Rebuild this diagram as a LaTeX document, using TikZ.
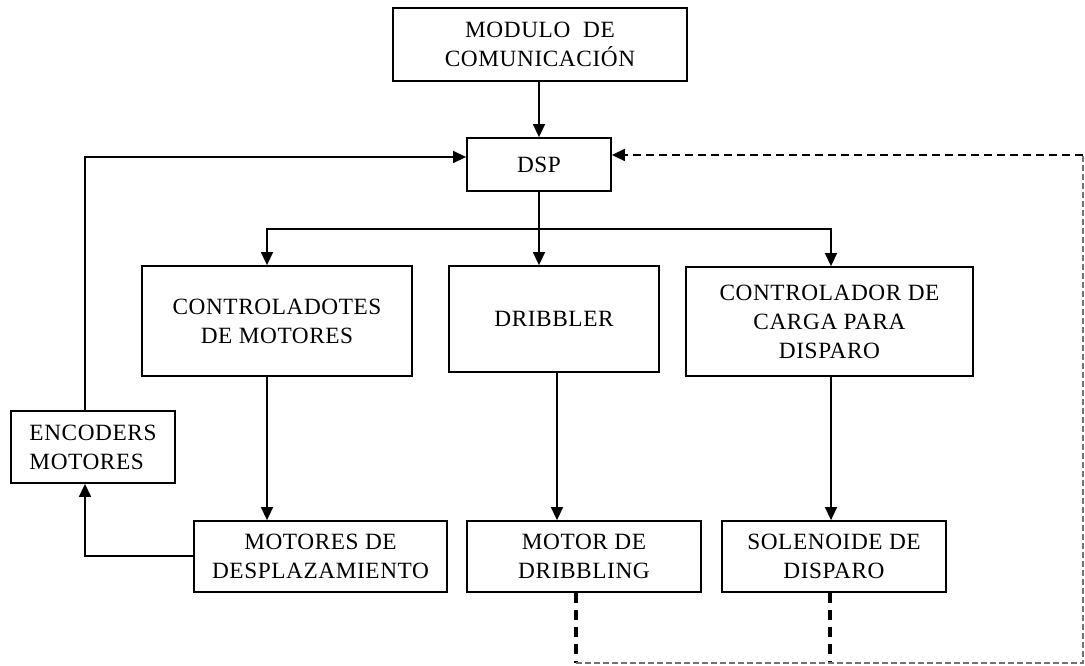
\documentclass[tikz,border=0pt]{standalone}
\usepackage{fontspec}
\setmainfont[LetterSpace=2.5]{Liberation Serif}
\usetikzlibrary{arrows.meta,calc}
\begin{document}
\begin{tikzpicture}[x=1pt,y=-1pt,
  blk/.style={draw=black,line width=1.8pt,align=center,inner sep=0pt,
    font=\fontsize{23.3}{29}\selectfont},
  arr/.style={line width=1.5pt,-{Triangle[length=13pt,width=12pt]}},
  dtop/.style={line width=1.6pt,dash pattern=on 8pt off 5pt},
  dthick/.style={line width=3.2pt,dash pattern=on 10pt off 7pt},
  dthin/.style={line width=1.2pt,draw=black!55,dash pattern=on 6pt off 3pt}]
\useasboundingbox (0,0) rectangle (1085,666);
\fill[white] (0,0) rectangle (1085,666);

% blocks
\node[blk,minimum width=294pt,minimum height=73pt] (mod) at (540,44.5) {MODULO \ DE\\COMUNICACIÓN};
\node[blk,minimum width=144pt,minimum height=53pt] (dsp) at (539,164.5) {DSP};
\node[blk,minimum width=270pt,minimum height=110pt] (ctrlm) at (277,321) {CONTROLADOTES\\DE MOTORES};
\node[blk,minimum width=210pt,minimum height=106pt] (drib) at (554,319) {DRIBBLER};
\node[blk,minimum width=287pt,minimum height=109pt] (ctrlc) at (829.5,321.5) {CONTROLADOR DE\\CARGA PARA\\DISPARO};
\node[blk,minimum width=164pt,minimum height=72pt,align=left] (enc) at (93,447) {ENCODERS\\MOTORES};
\node[blk,minimum width=253pt,minimum height=71pt] (motd) at (320.5,556.5) {MOTORES DE\\DESPLAZAMIENTO};
\node[blk,minimum width=234pt,minimum height=71pt] (motdrib) at (584,556.5) {MOTOR DE\\DRIBBLING};
\node[blk,minimum width=224pt,minimum height=71pt] (sol) at (834,556.5) {SOLENOIDE DE\\DISPARO};

% distribution bus below the DSP
\coordinate (busL) at (267,229);
\coordinate (busR) at (831,229);

% solid connectors
\draw[arr] (mod.south -| dsp.north) -- (dsp.north);
\draw[arr] (dsp.south) |- (busL) -- (busL |- ctrlm.north);
\draw[arr] (dsp.south) |- (busR) -- (busR |- ctrlc.north);
\draw[arr] (dsp.south) -- (dsp.south |- drib.north);
\draw[arr] (busL |- ctrlm.south) -- (busL |- motd.north);
\draw[arr] ([xshift=3pt]drib.south) -- ([xshift=3pt]drib.south |- motdrib.north);
\draw[arr] (busR |- ctrlc.south) -- (busR |- sol.north);
\draw[arr] ([yshift=0.5pt]motd.west) -| ([xshift=-8pt]enc.south);
\draw[arr] ([xshift=-8pt]enc.north) |- ([yshift=7.5pt]dsp.west);

% dashed return path
\coordinate (c1) at (576,663);
\coordinate (c2) at (830,663);
\coordinate (c3) at (1083,663);
\coordinate (c4) at (1083,155);
\draw[dthick] (motdrib.south -| c1) -- (c1);
\draw[dthick] (sol.south -| c2) -- (c2);
\draw[dthin] (c1) -- (c3) -- (c4);
\draw[dtop] (c4) -- ([xshift=14pt]dsp.east |- c4);
\draw[arr] ([xshift=14pt]dsp.east |- c4) -- (dsp.east |- c4);
\end{tikzpicture}
\end{document}
